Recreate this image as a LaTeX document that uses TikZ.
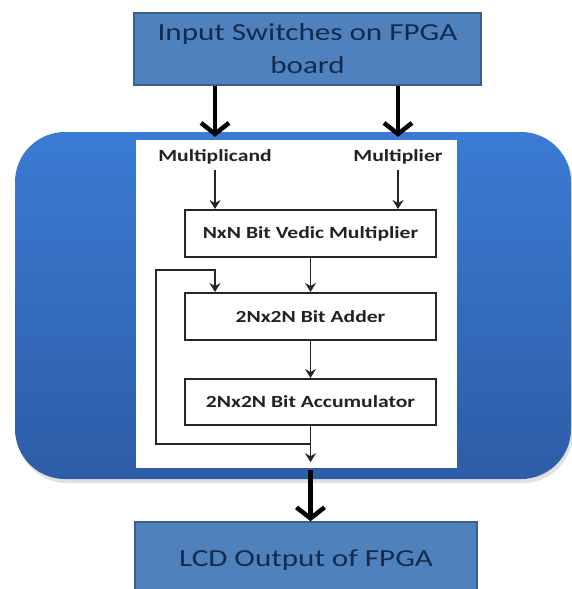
\documentclass[tikz,border=0pt]{standalone}
\usepackage{fontspec}
\setmainfont{Carlito}[FakeStretch=1.27]
\usetikzlibrary{arrows.meta,calc}
\definecolor{boxblue}{HTML}{4F81BD}
\definecolor{boxedge}{HTML}{3A5F8B}
\definecolor{navy}{HTML}{132B4F}
\definecolor{bigtop}{HTML}{3B7BD4}
\definecolor{bigbot}{HTML}{2D5DA6}
\definecolor{inktext}{HTML}{222222}
\begin{document}
\begin{tikzpicture}[x=1pt,y=-1pt,
 outbox/.style={draw=boxedge, line width=1.5pt, fill=boxblue, text=navy, font=\fontsize{24.5}{33}\selectfont, align=center, inner sep=0pt},
 blockbox/.style={draw=black!85, line width=2pt, fill=white, minimum width=251pt, minimum height=47pt, font=\bfseries\fontsize{17}{20}\selectfont, text=inktext, inner sep=0pt},
 lbl/.style={font=\bfseries\fontsize{17}{20}\selectfont, text=inktext, inner sep=2pt},
 bigarrow/.style={line width=4.5pt, -{Straight Barb[length=11pt,width=28pt]}},
 smallarrow/.style={line width=1.9pt, draw=black!85, -{Stealth[length=9pt,width=11pt,inset=3pt]}},
]
\useasboundingbox (0,0) rectangle (572,589);
\clip (0,0) rectangle (572,589);
\fill[black!12, rounded corners=50pt] (17,135) rectangle (573,483);
\shade[top color=bigtop, bottom color=bigbot, rounded corners=50pt] (15,132) rectangle (571,479);
\node[fill=white, minimum width=321pt, minimum height=328pt, inner sep=0pt] (inner) at (296.5,304) {};

\node[outbox, minimum width=347pt, minimum height=72pt] (top) at (307.5,49) {Input Switches on FPGA\\board};
\node[outbox, minimum width=342pt, minimum height=76pt] (lcd) at (306,560) {LCD Output of FPGA};

\node[lbl] (mcand) at (215,157) {Multiplicand};
\node[lbl] (mplier) at (398,157) {Multiplier};
\node[blockbox] (mult) at (310.5,233.5) {NxN Bit Vedic Multiplier};
\node[blockbox] (add) at (310.5,316.5) {2Nx2N Bit Adder};
\node[blockbox, minimum height=46pt] (acc) at (310.5,402) {2Nx2N Bit Accumulator};

\draw[bigarrow] (top.south -| mcand) -- ($(inner.north -| mcand)+(0,-3)$);
\draw[bigarrow] (top.south -| mplier) -- ($(inner.north -| mplier)+(0,-3)$);

\draw[smallarrow, shorten <=3pt] (mcand.south) -- (mcand.south |- mult.north);
\draw[smallarrow, shorten <=3pt] (mplier.south) -- (mplier.south |- mult.north);
\draw[smallarrow] (mult) -- (add);
\draw[smallarrow] (add) -- (acc);

\coordinate (j) at (310.5,444);
\coordinate (fl) at (156,444);
\coordinate (fu) at (156,270);
\draw[smallarrow] (acc.south) -- (j) -- (fl) -- (fu) -| (add.north -| mcand);
\draw[smallarrow] (j) -- ($(inner.south -| j)+(0,-6)$);

\draw[bigarrow] ($(inner.south -| acc)+(0,2)$) -- (lcd.north -| acc);
\end{tikzpicture}
\end{document}
